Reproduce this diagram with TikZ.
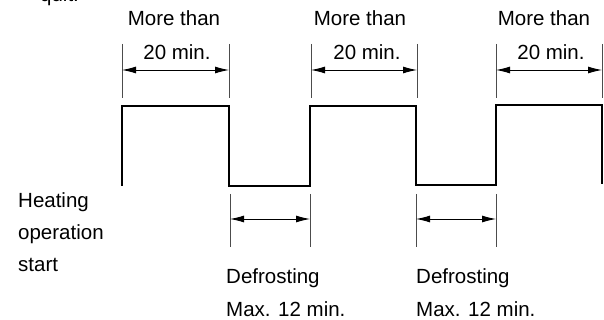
\documentclass[tikz,border=0pt]{standalone}
\usepackage{fontspec}
\setmainfont{Liberation Sans}
\usetikzlibrary{arrows.meta}
\begin{document}
\begin{tikzpicture}[x=1pt,y=-1pt,
  wave/.style={line width=1.4pt,black,line join=miter},
  dimline/.style={line width=0.9pt,black!70},
  dimarrow/.style={line width=0.9pt,black,{Latex[length=14pt,width=7pt]}-{Latex[length=14pt,width=7pt]}},
  lbl/.style={font=\fontsize{20.5}{24}\selectfont,inner sep=0pt}]
\useasboundingbox (0,0) rectangle (604,320);
% waveform points
\coordinate (w0) at (122,186);
\coordinate (w1) at (122,106);
\coordinate (w2) at (229,106);
\coordinate (w3) at (229,186);
\coordinate (w4) at (310,186);
\coordinate (w5) at (310,106);
\coordinate (w6) at (416,106);
\coordinate (w7) at (416,185);
\coordinate (w8) at (496,185);
\coordinate (w9) at (496,105);
\coordinate (w10) at (602,105);
\coordinate (w11) at (602,184);
\draw[wave] (w0) -- (w1) -- (w2) -- (w3) -- (w4) -- (w5) -- (w6) -- (w7) -- (w8) -- (w9) -- (w10) -- (w11);
% top dimension lines
\foreach \n/\x in {a/122,b/229,c/311,d/417,e/496,f/602}{
  \coordinate (t\n1) at (\x,44);
  \coordinate (t\n2) at (\x,98);
  \coordinate (t\n) at (\x,70);
  \draw[dimline] (t\n1) -- (t\n2);
}
\draw[dimarrow] (ta) -- (tb);
\draw[dimarrow] (tc) -- (td);
\draw[dimarrow] (te) -- (tf);
% bottom dimension lines
\foreach \n/\x in {a/230,b/310,c/416,d/496}{
  \coordinate (b\n1) at (\x,194);
  \coordinate (b\n2) at (\x,247);
  \coordinate (b\n) at (\x,219);
  \draw[dimline] (b\n1) -- (b\n2);
}
\draw[dimarrow] (ba) -- (bb);
\draw[dimarrow] (bc) -- (bd);
% labels
\node[lbl,anchor=south west] (quit) at (40,6) {quit.};
\node[lbl] (m1) at (174,18) {More than};
\node[lbl] (n1) at (177,52) {20 min.};
\node[lbl] (m2) at (360,18) {More than};
\node[lbl] (n2) at (367,52) {20 min.};
\node[lbl] (m3) at (544,18) {More than};
\node[lbl] (n3) at (551,52) {20 min.};
\node[lbl,anchor=west] (h1) at (18,202) {Heating};
\node[lbl,anchor=west] (h2) at (18,234) {operation};
\node[lbl,anchor=west] (h3) at (18,265) {start};
\node[lbl,anchor=west] (d1) at (226,278) {Defrosting};
\node[lbl,anchor=west] (x1) at (226,309) {Max. 12 min.};
\node[lbl,anchor=west] (d2) at (416,278) {Defrosting};
\node[lbl,anchor=west] (x2) at (416,309) {Max. 12 min.};
\end{tikzpicture}
\end{document}
